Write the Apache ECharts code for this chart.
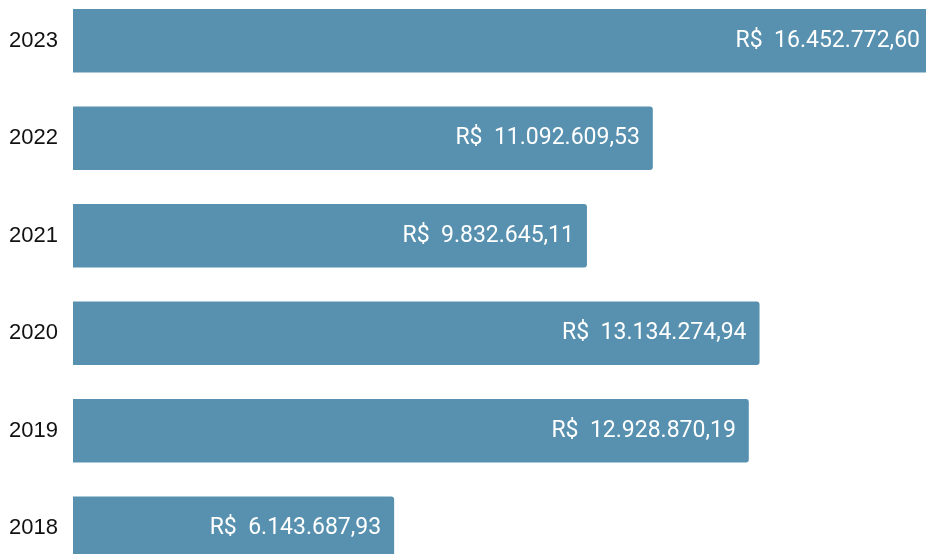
<!DOCTYPE html>
<html>
<head>
<meta charset="utf-8">
<script src="https://cdn.jsdelivr.net/npm/echarts@6/dist/echarts.min.js"></script>
<style>
  html, body { margin: 0; padding: 0; background: #fff; overflow: hidden; width: 926px; height: 554px; }
  /* o gráfico original é cortado nas bordas: área maior que a janela */
  #main { position: absolute; left: 0; top: -8px; width: 933px; height: 585px; }
</style>
</head>
<body>
<div id="main"></div>
<script>
var anos = ['2018', '2019', '2020', '2021', '2022', '2023'];
var valores = [6143687.93, 12928870.19, 13134274.94, 9832645.11, 11092609.53, 16452772.60];

// formato brasileiro: R$  1.234.567,89
function brl(v) {
  var partes = v.toFixed(2).split('.');
  var inteiro = partes[0].replace(/\B(?=(\d{3})+(?!\d))/g, '.');
  return 'R$  ' + inteiro + ',' + partes[1];
}

var chart = echarts.init(document.getElementById('main'));
chart.setOption({
  animation: false,
  grid: { left: 73, right: 0, top: 0, bottom: 0, containLabel: false },
  xAxis: {
    type: 'value',
    min: 0,
    max: 'dataMax',
    show: false
  },
  yAxis: {
    type: 'category',
    data: anos,
    axisLine: { show: false },
    axisTick: { show: false },
    axisLabel: {
      color: '#111',
      fontSize: 22,
      fontFamily: 'Liberation Sans, Arial, sans-serif',
      margin: 15
    }
  },
  series: [{
    type: 'bar',
    data: valores,
    barCategoryGap: '35%',
    itemStyle: { color: '#5791AF', borderRadius: [0, 3, 3, 0] },
    label: {
      show: true,
      position: 'insideRight',
      distance: 13,
      color: '#fff',
      fontSize: 23,
      fontFamily: 'Roboto, sans-serif',
      formatter: function (p) { return brl(p.value); }
    }
  }]
});
</script>
</body>
</html>
